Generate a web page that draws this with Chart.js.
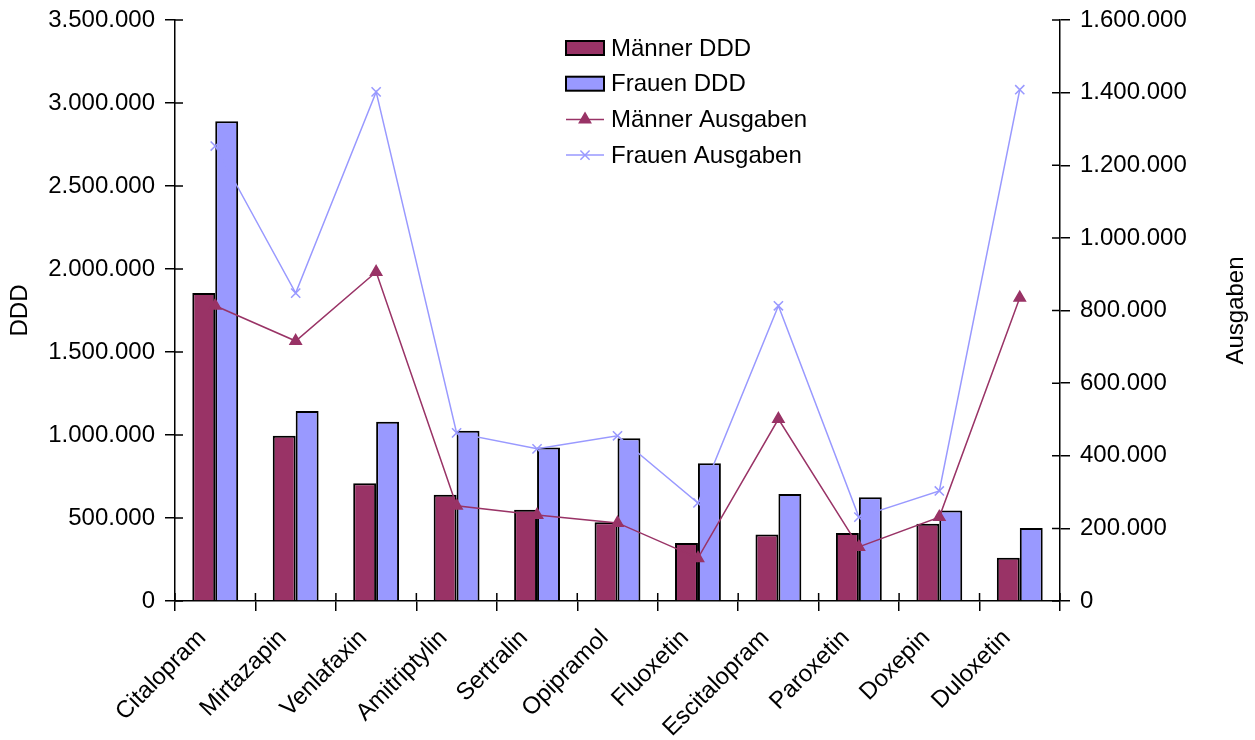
<!DOCTYPE html>
<html lang="de">
<head>
  <meta charset="UTF-8">
  <title>Antidepressiva: DDD und Ausgaben nach Geschlecht</title>
  <script src="https://cdn.jsdelivr.net/npm/chart.js"></script>
  <style>
    html, body { margin: 0; padding: 0; background: #fff; }
    #wrap { width: 1255px; height: 740px; }
  </style>
</head>
<body>

<div id="wrap"><canvas id="chart" width="1255" height="740"></canvas></div>

<script>
const wirkstoffe = ["Citalopram", "Mirtazapin", "Venlafaxin", "Amitriptylin", "Sertralin", "Opipramol",
                    "Fluoxetin", "Escitalopram", "Paroxetin", "Doxepin", "Duloxetin"];
const maennerDDD = [1855000, 995000, 710000, 640000, 550000, 475000, 350000, 400000, 410000, 465000, 260000];
const frauenDDD = [2890000, 1145000, 1080000, 1025000, 925000, 980000, 830000, 645000, 625000, 545000, 440000];
const maennerAusgaben = [813000, 716000, 906000, 262000, 237000, 215000, 118000, 501000, 149000, 231000, 835000];
const frauenAusgaben = [1253000, 848000, 1402000, 463000, 419000, 455000, 270000, 813000, 231000, 303000, 1408000];

const dddMax = 3500000, dddStep = 500000;
const ausgabenMax = 1600000, ausgabenStep = 200000;

const MAROON = "#993366";
const BLUE = "#9999FF";
const FONT = "'Liberation Sans', Arial, sans-serif";

function fmt(v) {
  return String(Math.round(v)).replace(/\B(?=(\d{3})+(?!\d))/g, ".");
}

// legend entries, drawn inside the plot area
const legendItems = [
  { text: "Männer DDD", type: "bar", color: MAROON },
  { text: "Frauen DDD", type: "bar", color: BLUE },
  { text: "Männer Ausgaben", type: "line", color: MAROON, point: "triangle" },
  { text: "Frauen Ausgaben", type: "line", color: BLUE, point: "crossRot" }
];

const extras = {
  id: "extras",
  afterDraw(chart) {
    const ctx = chart.ctx;
    const area = chart.chartArea;
    ctx.save();
    ctx.strokeStyle = "#000";
    ctx.lineWidth = 1.5;

    // tick marks that also reach into the plot
    const yl = chart.scales.y, yr = chart.scales.y2, x = chart.scales.x;
    ctx.beginPath();
    yl.ticks.forEach((t, i) => {
      const py = yl.getPixelForTick(i);
      ctx.moveTo(area.left, py); ctx.lineTo(area.left + 8, py);
    });
    yr.ticks.forEach((t, i) => {
      const py = yr.getPixelForTick(i);
      ctx.moveTo(area.right - 8, py); ctx.lineTo(area.right, py);
    });
    for (let i = 0; i <= wirkstoffe.length; i++) {
      const px = x.getPixelForDecimal(i / wirkstoffe.length);
      ctx.moveTo(px, area.bottom - 8); ctx.lineTo(px, area.bottom);
    }
    ctx.stroke();

    // axis titles, both reading bottom to top
    ctx.fillStyle = "#000";
    ctx.font = "24px " + FONT;
    ctx.textAlign = "center";
    ctx.textBaseline = "middle";
    const midY = (area.top + area.bottom) / 2;
    [["DDD", 20], ["Ausgaben", 1236]].forEach(([txt, cx]) => {
      ctx.save();
      ctx.translate(cx, midY);
      ctx.rotate(-Math.PI / 2);
      ctx.fillText(txt, 0, 0);
      ctx.restore();
    });

    // legend
    const lx = 566, ly = 48, rowH = 35.7;
    ctx.textAlign = "left";
    legendItems.forEach((item, i) => {
      const cy = ly + i * rowH;
      if (item.type === "bar") {
        ctx.fillStyle = item.color;
        ctx.fillRect(lx, cy - 7, 38, 14);
        ctx.strokeStyle = "#000";
        ctx.lineWidth = 2;
        ctx.strokeRect(lx, cy - 7, 38, 14);
      } else {
        ctx.strokeStyle = item.color;
        ctx.fillStyle = item.color;
        ctx.lineWidth = 1.5;
        ctx.beginPath();
        ctx.moveTo(lx, cy); ctx.lineTo(lx + 38, cy);
        ctx.stroke();
        Chart.helpers.drawPoint(ctx, { pointStyle: item.point, radius: 6.5, borderWidth: 1.5, rotation: 0 }, lx + 19, cy);
      }
      ctx.fillStyle = "#000";
      ctx.fillText(item.text, 611, cy + 1);
    });
    ctx.restore();
  }
};

const axisGrid = {
  drawOnChartArea: false,
  drawTicks: true,
  tickLength: 10,
  color: "#000",
  lineWidth: 1.5
};

function fixVertical(width) {
  return function (scale) {
    scale.width = width;
    scale.paddingTop = 0;
    scale.paddingBottom = 0;
  };
}

new Chart(document.getElementById("chart"), {
  type: "bar",
  data: {
    labels: wirkstoffe,
    datasets: [
      { label: "Männer DDD", data: maennerDDD, backgroundColor: MAROON, borderColor: "#000",
        borderWidth: 2, yAxisID: "y", order: 1 },
      { label: "Frauen DDD", data: frauenDDD, backgroundColor: BLUE, borderColor: "#000",
        borderWidth: 2, yAxisID: "y", order: 1 },
      { type: "line", label: "Männer Ausgaben", data: maennerAusgaben, borderColor: MAROON,
        backgroundColor: MAROON, borderWidth: 1.5, pointStyle: "triangle", pointRadius: 6.5,
        pointBorderWidth: 1.5, tension: 0, yAxisID: "y2", order: 0 },
      { type: "line", label: "Frauen Ausgaben", data: frauenAusgaben, borderColor: BLUE,
        backgroundColor: BLUE, borderWidth: 1.5, pointStyle: "crossRot", pointRadius: 6.5,
        pointBorderWidth: 1.5, tension: 0, yAxisID: "y2", order: 0 }
    ]
  },
  options: {
    responsive: false,
    animation: false,
    layout: { padding: { top: 20, left: 0, right: 0, bottom: 0 } },
    datasets: { bar: { categoryPercentage: 0.57, barPercentage: 1.0 } },
    plugins: { legend: { display: false }, tooltip: { enabled: false } },
    scales: {
      x: {
        offset: true,
        grid: Object.assign({}, axisGrid, { offset: true }),
        border: { color: "#000", width: 1.5 },
        ticks: { color: "#000", font: { family: FONT, size: 24 }, autoSkip: false,
                 maxRotation: 45, minRotation: 45, padding: 13, labelOffset: -13 },
        afterFit(scale) { scale.height = 139; }
      },
      y: {
        position: "left",
        min: 0, max: dddMax,
        grid: axisGrid,
        border: { color: "#000", width: 1.5 },
        ticks: { color: "#000", font: { family: FONT, size: 24 }, stepSize: dddStep,
                 padding: 10, callback: v => fmt(v) },
        afterFit: fixVertical(175)
      },
      y2: {
        position: "right",
        min: 0, max: ausgabenMax,
        grid: axisGrid,
        border: { color: "#000", width: 1.5 },
        ticks: { color: "#000", font: { family: FONT, size: 24 }, stepSize: ausgabenStep,
                 padding: 10, callback: v => fmt(v) },
        afterFit: fixVertical(195)
      }
    }
  },
  plugins: [extras]
});
</script>

</body>
</html>
